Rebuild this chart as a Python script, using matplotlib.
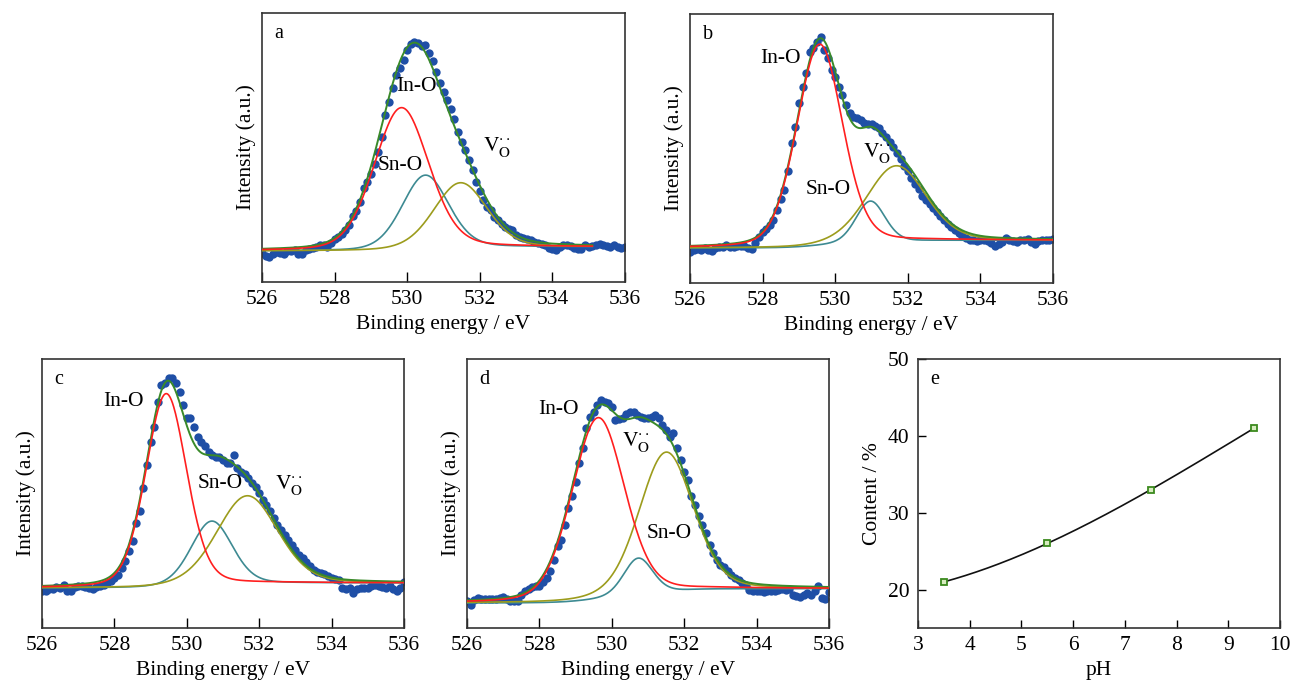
import numpy as np
import matplotlib
matplotlib.use("Agg")
import matplotlib.pyplot as plt

plt.rcParams["font.family"] = ["Liberation Serif", "DejaVu Serif"]
plt.rcParams["mathtext.fontset"] = "stix"

# Binding energy grid of the O 1s scans (eV)
energy = np.linspace(526.0, 536.0, 101)

# Measured O 1s intensities (arbitrary units), one scan per sample
counts_a = [87, 78, 76, 85, 90, 88, 85, 93, 93, 95,
            83, 85, 97, 100, 102, 105, 112, 112, 105, 118,
            128, 136, 145, 155, 172, 198, 212, 240, 280, 300,
            322, 352, 390, 435, 500, 540, 580, 620, 640, 665,
            695, 713, 717, 715, 705, 710, 685, 660, 628, 596,
            570, 545, 518, 487, 448, 420, 395, 365, 336, 300,
            272, 245, 225, 215, 195, 185, 175, 165, 160, 155,
            140, 135, 132, 130, 125, 120, 117, 115, 110, 102,
            98, 97, 105, 112, 110, 107, 103, 100, 100, 110,
            105, 108, 110, 115, 110, 108, 105, 110, 105, 103, 105]
counts_b = [92, 100, 102, 98, 105, 100, 97, 106, 108, 108,
            115, 108, 108, 110, 110, 112, 104, 102, 120, 138,
            152, 163, 175, 190, 220, 252, 280, 335, 420, 470,
            540, 590, 630, 695, 705, 725, 740, 700, 675, 640,
            620, 590, 565, 535, 510, 500, 497, 490, 482, 478,
            477, 472, 465, 452, 440, 425, 410, 390, 372, 350,
            335, 315, 298, 282, 262, 248, 237, 225, 212, 200,
            190, 176, 168, 160, 150, 140, 135, 130, 128, 125,
            130, 128, 125, 120, 110, 118, 122, 135, 128, 125,
            122, 128, 130, 132, 122, 118, 125, 128, 130, 128, 132]
counts_c = [112, 110, 118, 117, 122, 120, 128, 112, 110, 122,
            125, 125, 124, 120, 118, 124, 126, 130, 134, 142,
            150, 160, 180, 200, 230, 260, 315, 350, 420, 490,
            560, 605, 680, 730, 735, 750, 750, 735, 710, 670,
            632, 630, 605, 575, 560, 548, 530, 520, 515, 515,
            505, 495, 495, 520, 480, 470, 462, 450, 435, 425,
            405, 385, 370, 350, 330, 310, 295, 280, 265, 250,
            235, 220, 210, 198, 185, 175, 168, 165, 162, 155,
            150, 148, 145, 120, 117, 120, 105, 118, 120, 120,
            120, 125, 128, 125, 122, 120, 125, 118, 110, 120, 137]
counts_d = [80, 70, 85, 90, 88, 87, 87, 87, 87, 90,
            92, 88, 80, 80, 80, 98, 110, 118, 122, 125,
            127, 138, 150, 170, 205, 245, 265, 310, 360, 395,
            440, 495, 540, 600, 633, 650, 670, 685, 680, 675,
            665, 625, 628, 632, 642, 650, 648, 640, 635, 630,
            630, 633, 640, 630, 610, 595, 575, 585, 540, 505,
            470, 445, 395, 370, 335, 310, 285, 250, 225, 205,
            190, 182, 170, 160, 150, 144, 136, 128, 115, 112,
            112, 110, 108, 110, 110, 112, 115, 116, 115, 118,
            100, 95, 92, 100, 105, 100, 110, 125, 90, 88, 108]

# Fitted components: (centre eV, height above background, FWHM eV)
peaks_a = {"In-O": (529.84, 425, 1.77), "Sn-O": (530.50, 220, 1.50), "VO": (531.47, 194, 1.72)}
peaks_b = {"In-O": (529.57, 605, 1.49), "Sn-O": (530.97, 125, 0.95), "VO": (531.68, 228, 1.93)}
peaks_c = {"In-O": (529.43, 580, 1.33), "Sn-O": (530.69, 192, 1.34), "VO": (531.67, 265, 1.98)}
peaks_d = {"In-O": (529.62, 545, 1.72), "Sn-O": (530.73, 110, 0.95), "VO": (531.50, 420, 1.76)}
# Background level at the low / high binding-energy ends
background_a = (93, 105)
background_b = (105, 128)
background_c = (120, 135)
background_d = (75, 118)
# Upper end of the fitted range (eV)
fit_end = {"a": 535.1, "b": 536.0, "c": 536.0, "d": 536.0}

# Oxygen-vacancy content versus pH
ph = [3.5, 5.5, 7.5, 9.5]
content = [21, 26, 33, 41]

C_DOT = "#1f4fa6"
C_IN = "#ff1f1f"
C_SN = "#3d8a92"
C_VO = "#9c9c1c"
C_ENV = "#3a8a2a"
VO_TEXT = r"$\mathrm{V}_{\mathrm{O}}^{\cdot\cdot}$"
FS = 15.5


def gl(x, c, h, w, eta=0.2):
    """Gaussian-Lorentzian line shape."""
    d2 = (x - c) ** 2
    g = np.exp(-4 * np.log(2) * d2 / w ** 2)
    lor = 1.0 / (1 + 4 * d2 / w ** 2)
    return h * ((1 - eta) * g + eta * lor)


def style_frame(ax):
    for s in ax.spines.values():
        s.set_linewidth(1.2)
        s.set_color("#333333")


def xps_panel(ax, counts, peaks, bg, xmax, ylim, letter, labels):
    ax.scatter(energy, counts, s=36, color=C_DOT, zorder=2, linewidths=0)
    x = np.linspace(526.0, xmax, 600)
    comps = {k: gl(x, *v) for k, v in peaks.items()}
    total = sum(comps.values())
    cum = np.cumsum(total)
    shirley = bg[0] + (bg[1] - bg[0]) * cum / cum[-1]
    ax.plot(x, shirley + comps["Sn-O"], color=C_SN, lw=1.2, zorder=3)
    ax.plot(x, shirley + comps["VO"], color=C_VO, lw=1.2, zorder=3)
    ax.plot(x, shirley + total, color=C_ENV, lw=1.4, zorder=4)
    ax.plot(x, shirley + comps["In-O"], color=C_IN, lw=1.2, zorder=5)
    ax.set_xlim(526, 536)
    ax.set_ylim(0, ylim)
    ax.set_xticks([526, 528, 530, 532, 534, 536])
    ax.set_yticks([])
    ax.tick_params(axis="x", direction="in", length=7, width=1, labelsize=FS, pad=6)
    style_frame(ax)
    ax.set_xlabel("Binding energy / eV", fontsize=FS, labelpad=4)
    ax.set_ylabel("Intensity (a.u.)", fontsize=FS, labelpad=4)
    ax.text(0.035, 0.96, letter, transform=ax.transAxes, fontsize=14.5, va="top", ha="left")
    for txt, (xx, yy, ha) in labels.items():
        s = VO_TEXT if txt == "VO" else txt
        ax.text(xx, yy, s, fontsize=FS, ha=ha, va="center", zorder=6)


fig = plt.figure(figsize=(12.93, 6.86), dpi=100)
W = 1293.0
H = 686.0


def add_axes(l, t, r, b):
    return fig.add_axes([l / W, 1 - b / H, (r - l) / W, (b - t) / H])


ax_a = add_axes(262, 13, 625, 282)
ax_b = add_axes(690, 14, 1053, 283)
ax_c = add_axes(42, 359, 404, 628)
ax_d = add_axes(467, 359, 829, 628)
ax_e = add_axes(918, 359, 1280, 628)

xps_panel(ax_a, counts_a, peaks_a, background_a, fit_end["a"], 805, "a",
          {"In-O": (530.25, 585, "center"), "Sn-O": (529.8, 348, "center"), "VO": (532.08, 405, "left")})
xps_panel(ax_b, counts_b, peaks_b, background_b, fit_end["b"], 808, "b",
          {"In-O": (528.48, 675, "center"), "Sn-O": (529.8, 280, "center"), "VO": (530.77, 390, "left")})
xps_panel(ax_c, counts_c, peaks_c, background_c, fit_end["c"], 808, "c",
          {"In-O": (528.25, 680, "center"), "Sn-O": (530.92, 433, "center"), "VO": (532.43, 430, "left")})
xps_panel(ax_d, counts_d, peaks_d, background_d, fit_end["d"], 808, "d",
          {"In-O": (528.53, 655, "center"), "Sn-O": (531.59, 285, "center"), "VO": (530.27, 560, "left")})

# Panel e: smooth curve through the measured points
coef = np.polyfit(ph, content, 3)
xs = np.linspace(ph[0], ph[-1], 200)
ax_e.plot(xs, np.polyval(coef, xs), color="#111111", lw=1.2, zorder=2)
ax_e.plot(ph, content, ls="none", marker="s", ms=4.5, mfc="#d8ecc0", mec="#3b8a1e", mew=1.3, zorder=3)
ax_e.set_xlim(3, 10)
ax_e.set_ylim(15, 50)
ax_e.set_xticks(range(3, 11))
ax_e.set_yticks([20, 30, 40, 50])
ax_e.tick_params(direction="in", length=6, width=1, labelsize=FS, pad=6)
style_frame(ax_e)
ax_e.set_xlabel("pH", fontsize=FS, labelpad=4)
ax_e.set_ylabel("Content / %", fontsize=FS, labelpad=4)
ax_e.text(0.035, 0.96, "e", transform=ax_e.transAxes, fontsize=14.5, va="top", ha="left")

fig.savefig("out.png", dpi=100)
